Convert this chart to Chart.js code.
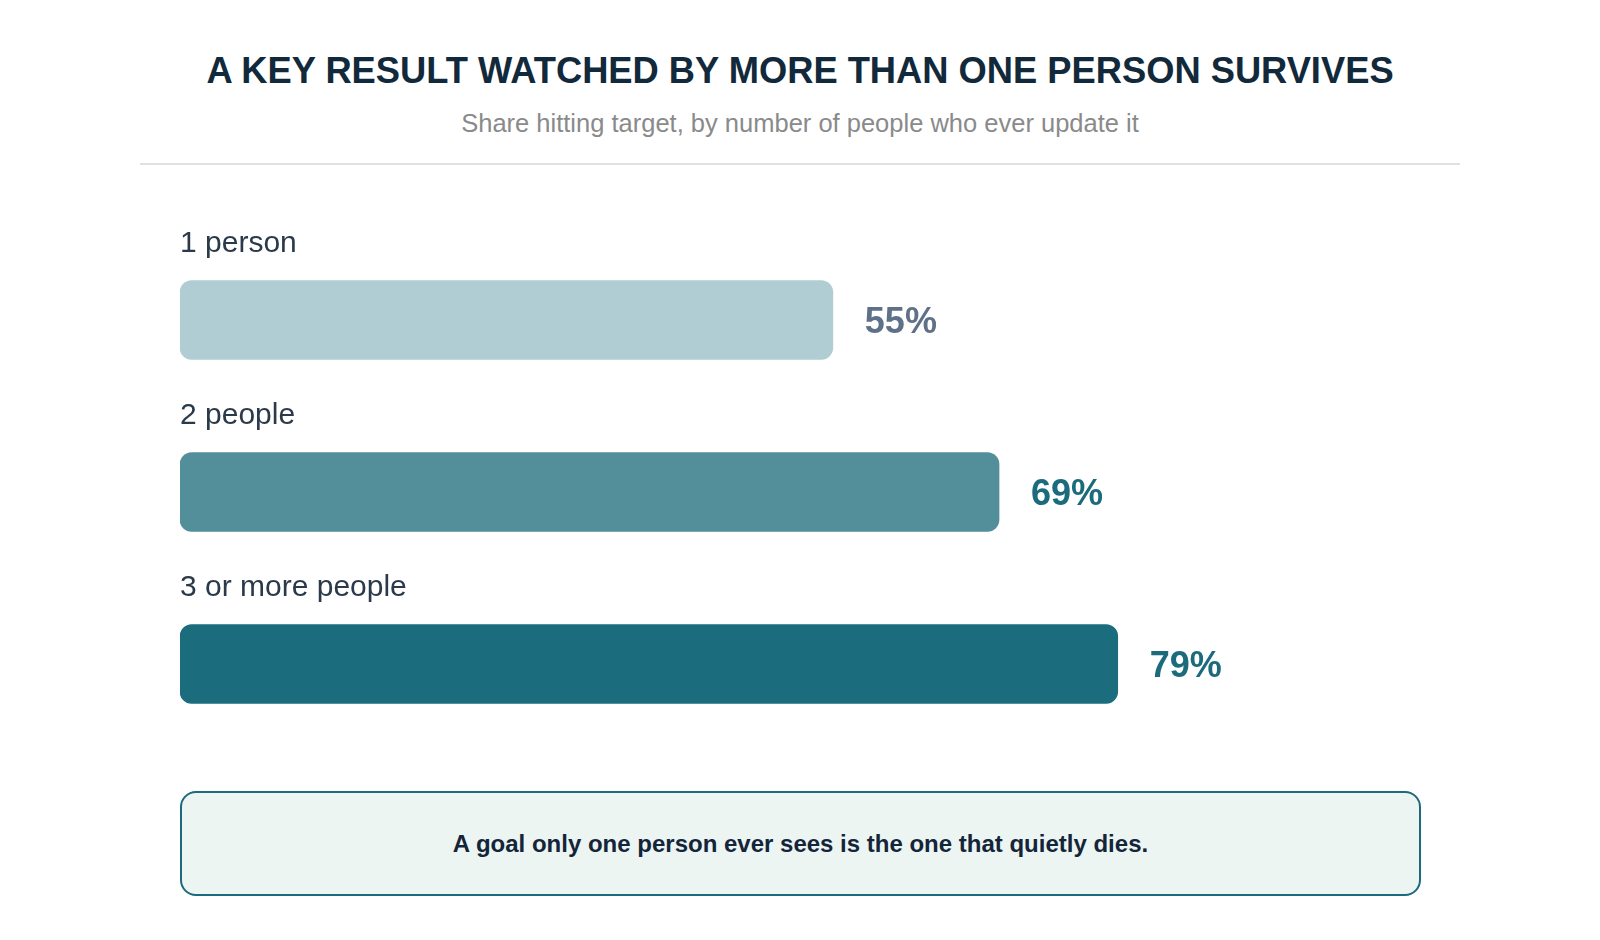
<!DOCTYPE html>
<html>
<head>
<meta charset="utf-8">
<script src="https://cdn.jsdelivr.net/npm/chart.js@4.4.1/dist/chart.umd.min.js"></script>
<style>
    html, body { margin: 0; padding: 0; background: #ffffff; }
    body { width: 1600px; height: 940px; position: relative; font-family: "Liberation Sans", Arial, sans-serif; overflow: hidden; }
    .title { position: absolute; top: 50px; left: 0; width: 1600px; text-align: center; font-size: 36.3px; font-weight: bold; color: #12293b; }
    .subtitle { position: absolute; top: 109px; left: 0; width: 1600px; text-align: center; font-size: 25.5px; color: #8a8a8a; }
    .divider { position: absolute; top: 163px; left: 140px; width: 1320px; height: 2px; background: #e0e0e0; }
    .chart-wrap { position: absolute; top: 181px; left: 0; width: 1600px; height: 590px; }
    .callout { position: absolute; top: 791px; left: 180px; width: 1241px; height: 105px; box-sizing: border-box;
               border: 2.5px solid #1b6b7c; border-radius: 16px; background: #edf5f2;
               display: flex; align-items: center; justify-content: center;
               font-size: 24px; font-weight: bold; color: #14253a; }
</style>
</head>
<body>
<div class="title">A KEY RESULT WATCHED BY MORE THAN ONE PERSON SURVIVES</div>
<div class="subtitle">Share hitting target, by number of people who ever update it</div>
<div class="divider"></div>
<div class="chart-wrap"><canvas id="barChart"></canvas></div>
<div class="callout">A goal only one person ever sees is the one that quietly dies.</div>

<script>
// ==================== DATA ====================
const categories = ['1 person', '2 people', '3 or more people'];
const shareValues = [55, 69, 79];
const barColors = ['#b0cdd3', '#528f9b', '#1b6c7d'];
const valueColors = ['#5f7189', '#1b6b7c', '#1b6b7c'];

// ==================== LABEL PLUGIN ====================
// category name above each bar, percentage to the right of it
const barLabels = {
    id: 'barLabels',
    afterDatasetsDraw(chart) {
        const ctx = chart.ctx;
        const meta = chart.getDatasetMeta(0);
        const x0 = chart.scales.x.getPixelForValue(0);
        ctx.save();
        meta.data.forEach((bar, i) => {
            ctx.textBaseline = 'middle';
            ctx.textAlign = 'left';
            ctx.font = '30px "Liberation Sans", Arial, sans-serif';
            ctx.fillStyle = '#2b3a4a';
            ctx.fillText(categories[i], x0, bar.y - 76);

            ctx.font = 'bold 36px "Liberation Sans", Arial, sans-serif';
            ctx.fillStyle = valueColors[i];
            ctx.fillText(shareValues[i] + '%', bar.x + 32, bar.y + 3);
        });
        ctx.restore();
    }
};

// ==================== CHART ====================
new Chart(document.getElementById('barChart').getContext('2d'), {
    type: 'bar',
    data: {
        labels: categories,
        datasets: [{
            data: shareValues,
            backgroundColor: barColors,
            borderRadius: 12,
            borderSkipped: false,
            barThickness: 79
        }]
    },
    options: {
        indexAxis: 'y',
        responsive: true,
        maintainAspectRatio: false,
        animation: false,
        layout: { padding: { left: 180, right: 233, top: 53, bottom: 21 } },
        plugins: {
            legend: { display: false },
            tooltip: { enabled: false }
        },
        scales: {
            x: { display: false, min: 0, max: 100 },
            y: { display: false }
        }
    },
    plugins: [barLabels]
});
</script>
</body>
</html>
